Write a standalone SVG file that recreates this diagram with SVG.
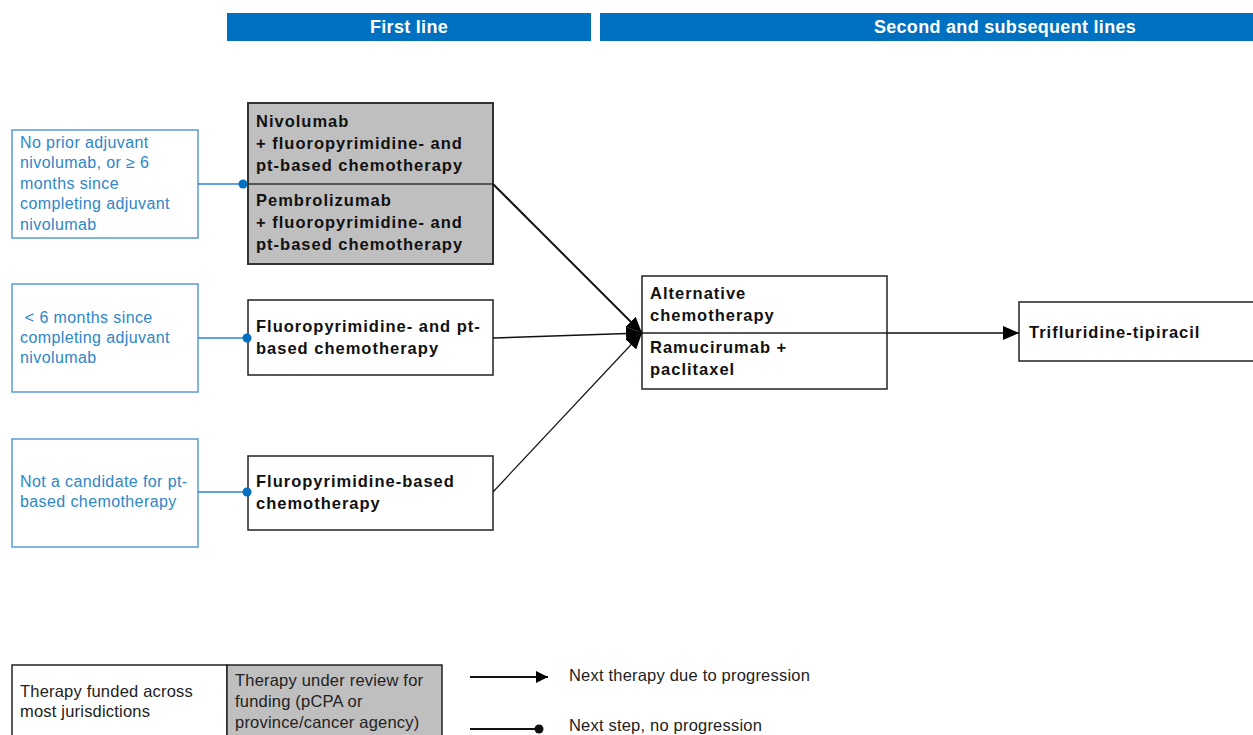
<svg xmlns="http://www.w3.org/2000/svg" width="1253" height="735" viewBox="0 0 1253 735">
<defs>
<style>
.hdr{fill:#0070C0}
.hdrt{font-family:"Liberation Sans",Arial,sans-serif;font-weight:bold;font-size:18px;letter-spacing:0.3px;fill:#fff;text-anchor:middle}
.cond{fill:#fff;stroke:#5B9BD5;stroke-width:1.5}
.condt{font-family:"Liberation Sans",Arial,sans-serif;font-size:16px;letter-spacing:0.4px;fill:#2E86C8}
.node{fill:#fff;stroke:#222;stroke-width:1.5}
.grey{fill:#BFBFBF;stroke:#333;stroke-width:2}
.nt{font-family:"Liberation Sans",Arial,sans-serif;font-weight:bold;font-size:16.5px;letter-spacing:1px;fill:#111}
.lt{font-family:"Liberation Sans",Arial,sans-serif;font-size:16.5px;letter-spacing:0.2px;fill:#222}
.blue{stroke:#2E86C8;stroke-width:1.5;fill:none}
</style>
<marker id="ah" viewBox="0 0 10 10" refX="10" refY="5" markerWidth="12" markerHeight="12" markerUnits="userSpaceOnUse" orient="auto"><path d="M0,0 L10,5 L0,10 z" fill="#000"/></marker>
<marker id="ah2" viewBox="0 0 10 10" refX="10" refY="5" markerWidth="16" markerHeight="14" markerUnits="userSpaceOnUse" orient="auto" preserveAspectRatio="none"><path d="M0,0 L10,5 L0,10 z" fill="#000"/></marker>
</defs>
<rect width="1253" height="735" fill="#fff"/>

<g id="header-first">
<rect class="hdr" x="227" y="13" width="364" height="28"/>
<text class="hdrt" x="409" y="33">First line</text>
</g>
<g id="header-second">
<rect class="hdr" x="600" y="13" width="653" height="28"/>
<text class="hdrt" x="1005" y="33">Second and subsequent lines</text>
</g>

<g id="cond1">
<rect class="cond" x="12" y="130" width="186" height="108"/>
<text class="condt" x="20" y="148">No prior adjuvant</text>
<text class="condt" x="20" y="168">nivolumab, or ≥ 6</text>
<text class="condt" x="20" y="189">months since</text>
<text class="condt" x="20" y="209">completing adjuvant</text>
<text class="condt" x="20" y="230">nivolumab</text>
</g>
<g id="cond2">
<rect class="cond" x="12" y="284" width="186" height="108"/>
<text class="condt" x="20" y="323" xml:space="preserve"> &lt; 6 months since</text>
<text class="condt" x="20" y="343">completing adjuvant</text>
<text class="condt" x="20" y="363">nivolumab</text>
</g>
<g id="cond3">
<rect class="cond" x="12" y="439" width="186" height="108"/>
<text class="condt" x="20" y="487">Not a candidate for pt-</text>
<text class="condt" x="20" y="507">based chemotherapy</text>
</g>

<g id="immuno">
<rect class="grey" x="248" y="103" width="245" height="161"/>
<line x1="248" y1="184" x2="493" y2="184" stroke="#333" stroke-width="1.5"/>
<text class="nt" x="256" y="127">Nivolumab</text>
<text class="nt" x="256" y="149">+ fluoropyrimidine- and</text>
<text class="nt" x="256" y="171">pt-based chemotherapy</text>
<text class="nt" x="256" y="206">Pembrolizumab</text>
<text class="nt" x="256" y="228">+ fluoropyrimidine- and</text>
<text class="nt" x="256" y="250">pt-based chemotherapy</text>
</g>
<g id="fp-pt">
<rect class="node" x="248" y="300" width="245" height="75"/>
<text class="nt" x="256" y="332">Fluoropyrimidine- and pt-</text>
<text class="nt" x="256" y="354">based chemotherapy</text>
</g>
<g id="fp">
<rect class="node" x="248" y="456" width="245" height="74"/>
<text class="nt" x="256" y="487">Fluropyrimidine-based</text>
<text class="nt" x="256" y="509">chemotherapy</text>
</g>
<g id="second">
<rect class="node" x="642" y="276" width="245" height="113"/>
<line x1="642" y1="333" x2="887" y2="333" stroke="#222" stroke-width="1.5"/>
<text class="nt" x="650" y="299">Alternative</text>
<text class="nt" x="650" y="321">chemotherapy</text>
<text class="nt" x="650" y="353">Ramucirumab +</text>
<text class="nt" x="650" y="375">paclitaxel</text>
</g>
<g id="third">
<rect class="node" x="1019" y="302" width="240" height="59"/>
<text class="nt" x="1029" y="338">Trifluridine-tipiracil</text>
</g>

<g id="connectors">
<line class="blue" x1="198" y1="184" x2="243" y2="184"/>
<circle cx="243" cy="184" r="4.5" fill="#0070C0"/>
<line class="blue" x1="198" y1="338" x2="247" y2="338"/>
<circle cx="247" cy="338" r="4.5" fill="#0070C0"/>
<line class="blue" x1="198" y1="492" x2="247" y2="492"/>
<circle cx="247" cy="492" r="4.5" fill="#0070C0"/>
<line x1="493" y1="184" x2="642" y2="333" stroke="#111" stroke-width="2" marker-end="url(#ah2)"/>
<line x1="493" y1="338" x2="642" y2="333" stroke="#111" stroke-width="1.5" marker-end="url(#ah2)"/>
<line x1="493" y1="492" x2="642" y2="333" stroke="#111" stroke-width="1.2" marker-end="url(#ah2)"/>
<line x1="887" y1="333" x2="1019" y2="333" stroke="#111" stroke-width="1.5" marker-end="url(#ah2)"/>
</g>

<g id="legend">
<rect x="12" y="665" width="215" height="75" fill="#fff" stroke="#222" stroke-width="1.5"/>
<rect x="227" y="665" width="215" height="75" fill="#BFBFBF" stroke="#222" stroke-width="1.5"/>
<text class="lt" x="20" y="697">Therapy funded across</text>
<text class="lt" x="20" y="717">most jurisdictions</text>
<text class="lt" x="235" y="686">Therapy under review for</text>
<text class="lt" x="235" y="707">funding (pCPA or</text>
<text class="lt" x="235" y="728">province/cancer agency)</text>
<line x1="470" y1="677" x2="548" y2="677" stroke="#111" stroke-width="2" marker-end="url(#ah)"/>
<text class="lt" x="569" y="681">Next therapy due to progression</text>
<line x1="470" y1="729" x2="538" y2="729" stroke="#111" stroke-width="2"/>
<circle cx="539" cy="729" r="4.5" fill="#111"/>
<text class="lt" x="569" y="731">Next step, no progression</text>
</g>
</svg>
